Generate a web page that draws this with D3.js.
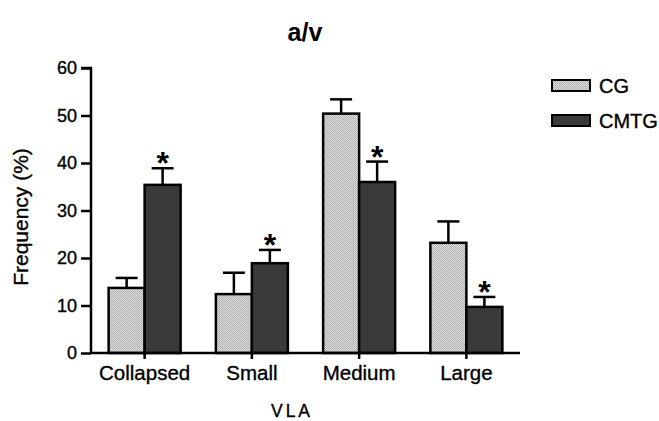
<!DOCTYPE html>
<html>
<head>
<meta charset="utf-8">
<script src="https://cdn.jsdelivr.net/npm/d3@7"></script>
<style>
  html, body { margin: 0; padding: 0; background: #fff; }
  svg text { font-family: "Liberation Sans", Arial, sans-serif; fill: #000; }
</style>
</head>
<body>
<svg id="chart" width="659" height="421"></svg>
<script>
const categories = ["Collapsed", "Small", "Medium", "Large"];
const seriesNames = ["CG", "CMTG"];
const cgValues = [13.7, 12.4, 50.4, 23.2];
const cgErrors = [2.1, 4.5, 3.0, 4.5];
const cmtgValues = [35.4, 18.9, 36.0, 9.7];
const cmtgErrors = [3.5, 2.8, 4.3, 2.1];
const cmtgSignificant = [true, true, true, true];
const yTicks = [0, 10, 20, 30, 40, 50, 60];
const titleText = "a/v";
const xTitle = "VLA";
const yTitle = "Frequency (%)";

const svg = d3.select("#chart");

// pattern for CG
const defs = svg.append("defs");
const pat = defs.append("pattern").attr("id", "dots")
  .attr("width", 2).attr("height", 2).attr("patternUnits", "userSpaceOnUse");
pat.append("rect").attr("width", 2).attr("height", 2).attr("fill", "#dcdcdc");
pat.append("rect").attr("width", 1).attr("height", 1).attr("fill", "#b2b2b2");
pat.append("rect").attr("x", 1).attr("y", 1).attr("width", 1).attr("height", 1).attr("fill", "#b2b2b2");

const x = d3.scaleBand().domain(categories).range([91, 520]).padding(0);
const y = d3.scaleLinear().domain([0, 60]).range([353, 68]);
const barW = 36;

const series = [
  { name: seriesNames[0], values: cgValues, errors: cgErrors, fill: "url(#dots)", offset: -barW },
  { name: seriesNames[1], values: cmtgValues, errors: cmtgErrors, fill: "#3a3a3a", offset: 0 }
];

// error bars (behind bars)
series.forEach(s => {
  const g = svg.append("g");
  categories.forEach((c, i) => {
    const cx = x(c) + x.bandwidth() / 2 + s.offset + barW / 2;
    const top = y(s.values[i] + s.errors[i]);
    g.append("line").attr("x1", cx).attr("x2", cx)
      .attr("y1", y(s.values[i])).attr("y2", top)
      .attr("stroke", "#000").attr("stroke-width", 2.5);
    g.append("line").attr("x1", cx - 11).attr("x2", cx + 11)
      .attr("y1", top).attr("y2", top)
      .attr("stroke", "#000").attr("stroke-width", 2.5);
  });
});

series.forEach(s => {
  svg.append("g").selectAll("rect").data(categories).join("rect")
    .attr("x", c => x(c) + x.bandwidth() / 2 + s.offset)
    .attr("y", (c, i) => y(s.values[i]))
    .attr("width", barW)
    .attr("height", (c, i) => y(0) - y(s.values[i]))
    .attr("fill", s.fill)
    .attr("stroke", "#000").attr("stroke-width", 2.5);
});

// asterisks
categories.forEach((c, i) => {
  if (!cmtgSignificant[i]) return;
  const cx = x(c) + x.bandwidth() / 2 + barW / 2;
  svg.append("text").attr("x", cx).attr("y", y(cmtgValues[i] + cmtgErrors[i]) + 6)
    .attr("text-anchor", "middle").attr("font-size", 32).attr("font-weight", "bold")
    .text("*");
});

const heavy = sel => sel.attr("stroke", "#000").attr("stroke-width", 0.35);

// y axis
const yAxis = svg.append("g").attr("transform", "translate(91,0)")
  .call(d3.axisLeft(y).tickValues(yTicks).tickSize(10).tickPadding(4).tickFormat(d3.format("d")));
yAxis.select(".domain").attr("stroke-width", 2.5).attr("d", `M-10,${y(60)}H0V${y(0)}`);
yAxis.selectAll(".tick line").attr("stroke-width", 2.5);
yAxis.selectAll(".tick text").attr("font-size", 18).style("font-family", "Liberation Sans, Arial, sans-serif").call(heavy);

// x axis
const xAxis = svg.append("g").attr("transform", `translate(0,${y(0)})`)
  .call(d3.axisBottom(x).tickSize(6).tickPadding(6));
xAxis.select(".domain").attr("stroke-width", 2.5).attr("d", `M91,0H520`);
xAxis.selectAll(".tick line").attr("stroke-width", 2.5);
xAxis.selectAll(".tick text").attr("font-size", 20.5).style("font-family", "Liberation Sans, Arial, sans-serif").call(heavy);

// titles
svg.append("text").attr("x", 305).attr("y", 41).attr("text-anchor", "middle")
  .attr("font-size", 25).attr("font-weight", "bold").text(titleText);
svg.append("text").attr("x", 292).attr("y", 417).attr("text-anchor", "middle")
  .attr("font-size", 17.5).attr("letter-spacing", 3).call(heavy).text(xTitle);
svg.append("text").attr("transform", "translate(28,217) rotate(-90)")
  .attr("text-anchor", "middle").attr("font-size", 21).call(heavy).text(yTitle);

// legend
const legend = svg.append("g");
series.forEach((s, i) => {
  const ly = 80 + i * 35;
  legend.append("rect").attr("x", 552).attr("y", ly).attr("width", 38).attr("height", 11)
    .attr("fill", s.fill).attr("stroke", "#000").attr("stroke-width", 2);
  legend.append("text").attr("x", 599).attr("y", ly + 13).attr("font-size", 20)
    .call(heavy).text(s.name);
});
</script>
</body>
</html>
